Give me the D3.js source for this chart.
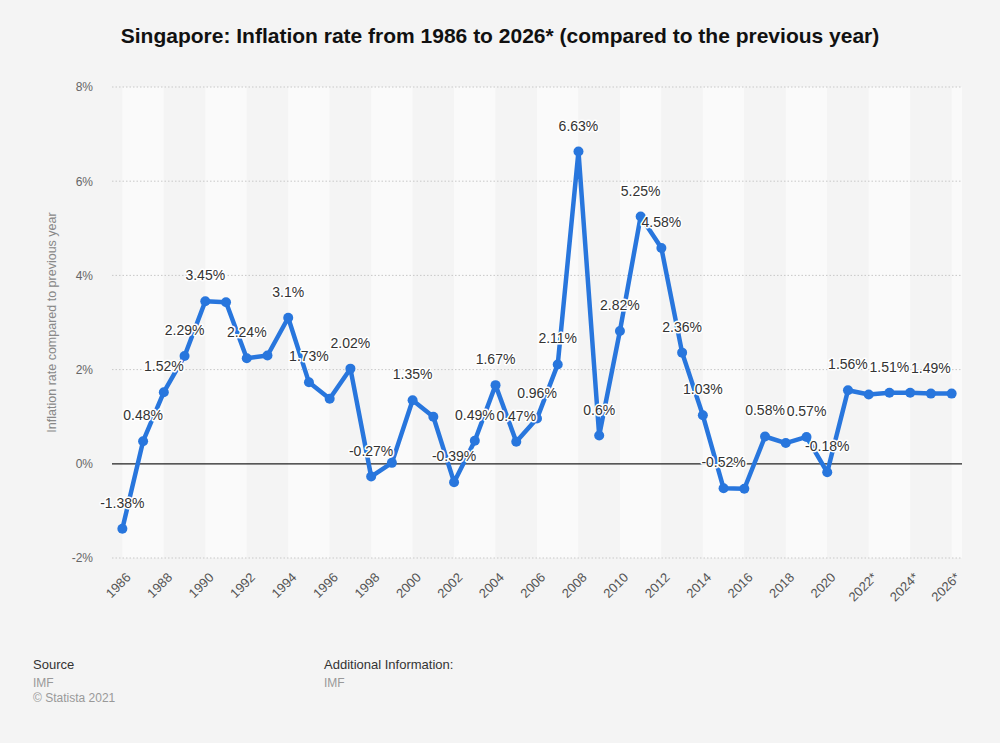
<!DOCTYPE html>
<html><head><meta charset="utf-8">
<script src="https://cdn.jsdelivr.net/npm/d3@7"></script>
<style>
body{margin:0;background:#f4f4f4;font-family:"Liberation Sans",Arial,sans-serif;}
</style></head>
<body><svg id="c" width="1000" height="743"></svg>
<script>
const years = d3.range(1986, 2027);
const yearLabels = years.map(y => y >= 2022 ? y + "*" : String(y));
const values = [-1.38,0.48,1.52,2.29,3.45,3.43,2.24,2.3,3.1,1.73,1.38,2.02,-0.27,0.02,1.35,1.0,-0.39,0.49,1.67,0.47,0.96,2.11,6.63,0.6,2.82,5.25,4.58,2.36,1.03,-0.52,-0.53,0.58,0.44,0.57,-0.18,1.56,1.47,1.51,1.51,1.49,1.49];
const showLabel = [1,1,1,1,1,0,1,0,1,1,0,1,1,0,1,0,1,1,1,1,1,1,1,1,1,1,1,1,1,1,0,1,0,1,1,1,0,1,0,1,0];
const yTicks = [-2,0,2,4,6,8];

(function(){
const svg = d3.select("#c");
const W = 1000, H = 743;
svg.append("rect").attr("width",W).attr("height",H).attr("fill","#f4f4f4");
const pL = 112, pR = 962, pT = 87, pB = 558;

const x = d3.scaleBand().domain(yearLabels).range([pL,pR]);
const xc = d => x(d) + x.bandwidth()/2;
const y = d3.scaleLinear().domain([-2,8]).range([pB, pT]);

for (let i = 0; i < years.length - 1; i += 2) {
  const x0 = xc(yearLabels[i]);
  const x1 = xc(yearLabels[i+2]);
  svg.append("rect").attr("x",x0).attr("y",pT).attr("width",x1-x0).attr("height",pB-pT)
    .attr("fill", (i/2)%2===0 ? "#fafafa" : "#f4f4f4");
}
svg.append("rect").attr("x",xc(yearLabels[40])).attr("y",pT).attr("width",pR-xc(yearLabels[40])).attr("height",pB-pT).attr("fill","#fafafa");

svg.append("g").selectAll("line").data(yTicks.filter(d=>d!==0)).join("line")
  .attr("x1",pL).attr("x2",pR).attr("y1",d=>y(d)).attr("y2",d=>y(d))
  .attr("stroke","#c8c8c8").attr("stroke-dasharray","1.5,2");

const yAxis = d3.axisLeft(y).tickValues(yTicks).tickFormat(d=>d+"%").tickSize(0).tickPadding(0);
const ga = svg.append("g").attr("transform",`translate(${pL-19},0)`).call(yAxis);
ga.select(".domain").remove();
ga.selectAll("text").attr("fill","#666").attr("font-size","12px").attr("font-family","Liberation Sans, Arial, sans-serif");

svg.append("line").attr("x1",pL).attr("x2",pR).attr("y1",y(0)).attr("y2",y(0)).attr("stroke","#222").attr("stroke-width",1.2);

svg.append("text").attr("transform",`translate(56,${(pT+pB)/2}) rotate(-90)`)
  .attr("text-anchor","middle").attr("fill","#888").attr("font-size","12.5px").text("Inflation rate compared to previous year");

const xAxis = d3.axisBottom(x).tickValues(yearLabels.filter((d,i)=>i%2===0)).tickSize(0).tickPadding(0);
const gx = svg.append("g").attr("transform",`translate(0,${pB+12})`).call(xAxis);
gx.select(".domain").remove();
gx.selectAll("text").attr("fill","#555").attr("font-size","13px").attr("font-family","Liberation Sans, Arial, sans-serif")
  .attr("text-anchor","end").attr("dy","0.35em").attr("transform","translate(6,5) rotate(-45)");

const data = years.map((yr,i)=>({k:yearLabels[i], v:values[i], s:showLabel[i]}));
svg.append("path").datum(data).attr("fill","none").attr("stroke","#2876dd").attr("stroke-width",4.5)
  .attr("stroke-linejoin","round").attr("d", d3.line().x(d=>xc(d.k)).y(d=>y(d.v)));
svg.append("g").selectAll("circle").data(data).join("circle")
  .attr("cx",d=>xc(d.k)).attr("cy",d=>y(d.v)).attr("r",5).attr("fill","#2876dd");

svg.append("g").selectAll("text").data(data.filter(d=>d.s)).join("text")
  .attr("x",d=>xc(d.k)).attr("y",d=>y(d.v)-21).attr("text-anchor","middle")
  .attr("font-size","14px").attr("fill","#333")
  .attr("stroke","#fff").attr("stroke-width",3).attr("stroke-linejoin","round").attr("paint-order","stroke")
  .text(d=>d.v+"%");

svg.append("text").attr("x",500).attr("y",43).attr("text-anchor","middle").attr("font-size","21px")
  .attr("font-weight","bold").attr("fill","#111").text("Singapore: Inflation rate from 1986 to 2026* (compared to the previous year)");

const f = svg.append("g").attr("font-size","13px");
f.append("text").attr("x",33).attr("y",669).attr("fill","#333").text("Source");
f.append("text").attr("x",33).attr("y",687).attr("fill","#999").attr("font-size","12px").text("IMF");
f.append("text").attr("x",33).attr("y",702).attr("fill","#999").attr("font-size","12px").text("© Statista 2021");
f.append("text").attr("x",324).attr("y",669).attr("fill","#333").text("Additional Information:");
f.append("text").attr("x",324).attr("y",687).attr("fill","#999").attr("font-size","12px").text("IMF");
})();
</script></body></html>
